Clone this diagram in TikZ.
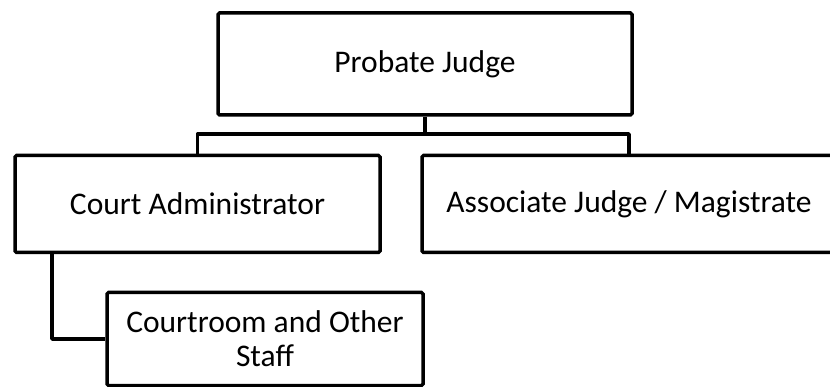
\documentclass[tikz,border=0pt]{standalone}
\usepackage{fontspec}
\setmainfont{Carlito}
\usepackage{tikz}

\tikzset{
	unit/.style={draw, line width=3.5pt, rounded corners=1.5pt, inner sep=0pt,
		align=center, font=\fontsize{31.5}{34}\selectfont},
	wire/.style={line width=3.5pt, line join=round},
}

\begin{document}
\begin{tikzpicture}[x=1pt, y=-1pt]
			\clip (0,0) rectangle (830,387);
			\node[unit, minimum width=414pt, minimum height=102pt] (judge) at (425,64) {Probate Judge};
			\node[unit, minimum width=365pt, minimum height=97pt] (admin) at (197.5,204) {Court Administrator};
			\node[unit, minimum width=414pt, minimum height=97pt] (assoc) at (629,204) {Associate Judge / Magistrate};
			\node[unit, minimum width=316pt, minimum height=93pt] (staff) at (265,339) {Courtroom and Other\\Staff};
			
			\coordinate (bus) at (425,134);
			\coordinate (tap) at (52,252.5);
			
			\draw[wire] (judge.south) -- (bus);
			\draw[wire] (admin.north) |- (bus) -| (assoc.north);
			\draw[wire] (tap) |- (staff.west);
		\end{tikzpicture}
\end{document}
